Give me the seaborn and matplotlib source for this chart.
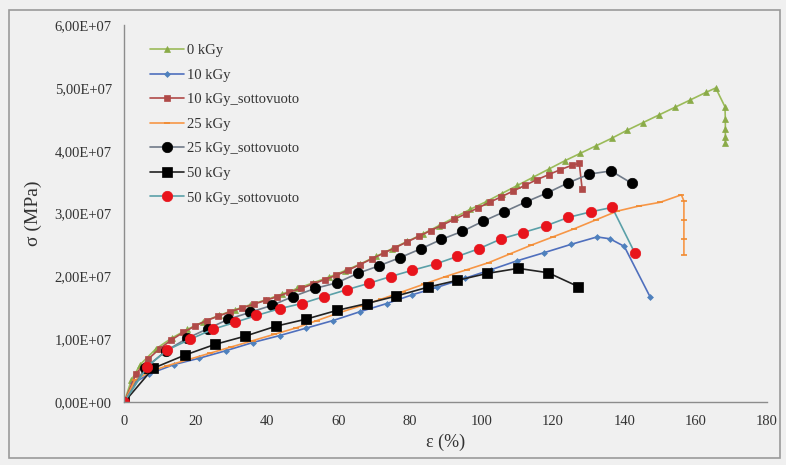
import seaborn as sns
import matplotlib.pyplot as plt
import matplotlib.ticker as mticker
from matplotlib.patches import Rectangle

# Dati: deformazione (%) e tensione (in unità di 1E+07)
x_0 = [0, 2, 4.5, 8.9, 13.3, 17.7, 22.1, 26.5, 30.9, 35.3, 39.7, 44.1, 48.5, 52.9, 57.3, 61.7, 66.1, 70.5,
       74.9, 79.3, 83.7, 88.1, 92.5, 96.9, 101.3, 105.7, 110.1, 114.5, 118.9, 123.3, 127.7, 132.1, 136.5,
       140.9, 145.3, 149.7, 154.1, 158.5, 162.9, 165.6, 168.2, 168.3, 168.3, 168.3, 168.3]
y_0 = [0, 0.35, 0.6, 0.85, 1.02, 1.16, 1.28, 1.38, 1.47, 1.55, 1.63, 1.72, 1.81, 1.9, 1.99, 2.09, 2.2, 2.32,
       2.44, 2.56, 2.68, 2.81, 2.94, 3.07, 3.19, 3.32, 3.45, 3.58, 3.71, 3.84, 3.96, 4.08, 4.2,
       4.33, 4.45, 4.57, 4.69, 4.81, 4.93, 5.0, 4.7, 4.5, 4.35, 4.22, 4.12]

x_10 = [0, 2.5, 7, 14, 21, 28.5, 36, 43.5, 51, 58.5, 66, 73.5, 80.7, 87.7, 95.3, 102.8, 110, 117.6, 125,
        132.4, 136, 140, 147.2]
y_10 = [0, 0.3, 0.45, 0.6, 0.7, 0.82, 0.95, 1.06, 1.18, 1.3, 1.44, 1.57, 1.71, 1.83, 1.97, 2.11, 2.25, 2.38,
        2.51, 2.63, 2.6, 2.48, 1.68]

x_10s = [0, 3.3, 6.6, 9.9, 13.2, 16.5, 19.8, 23.1, 26.4, 29.7, 33, 36.3, 39.6, 42.9, 46.2, 49.5, 52.8, 56.1,
         59.4, 62.7, 66, 69.3, 72.6, 75.9, 79.2, 82.5, 85.8, 89.1, 92.4, 95.7, 99, 102.3, 105.6, 108.9,
         112.2, 115.5, 118.8, 122.1, 125.4, 127.4, 128.2]
y_10s = [0, 0.45, 0.68, 0.85, 0.99, 1.11, 1.21, 1.3, 1.37, 1.44, 1.5, 1.56, 1.62, 1.68, 1.75, 1.81, 1.88, 1.95,
         2.02, 2.1, 2.19, 2.28, 2.37, 2.46, 2.55, 2.64, 2.73, 2.82, 2.91, 3.0, 3.09, 3.18, 3.27, 3.36,
         3.45, 3.54, 3.62, 3.7, 3.77, 3.8, 3.4]

x_25 = [0, 3, 7, 12, 18, 24, 30, 36, 42, 48, 54, 60, 66, 72, 78, 84, 90, 96, 102, 108, 114, 120, 126, 132,
        138, 144, 150, 156, 156.7, 156.7, 156.7, 156.7]
y_25 = [0, 0.35, 0.48, 0.58, 0.68, 0.78, 0.88, 0.98, 1.08, 1.18, 1.3, 1.42, 1.53, 1.64, 1.76, 1.88, 2.0, 2.11,
        2.22, 2.36, 2.5, 2.63, 2.76, 2.9, 3.04, 3.12, 3.18, 3.3, 3.2, 2.9, 2.6, 2.35]

x_25s = [0, 5.9, 11.8, 17.7, 23.4, 29.2, 35.2, 41.3, 47.2, 53.4, 59.5, 65.4, 71.3, 77.2, 83, 88.8, 94.7,
         100.5, 106.4, 112.6, 118.4, 124.3, 130.2, 136.3, 142.2]
y_25s = [0, 0.55, 0.82, 1.02, 1.17, 1.32, 1.43, 1.54, 1.68, 1.81, 1.9, 2.05, 2.17, 2.3, 2.44, 2.59, 2.72,
         2.88, 3.03, 3.19, 3.33, 3.49, 3.63, 3.68, 3.48]

x_50 = [0, 8.1, 17, 25.4, 33.8, 42.5, 50.8, 59.5, 67.9, 76.2, 85, 93.3, 101.7, 110.3, 118.7, 127.1]
y_50 = [0, 0.54, 0.75, 0.92, 1.05, 1.21, 1.32, 1.46, 1.57, 1.69, 1.83, 1.94, 2.05, 2.13, 2.06, 1.84]

x_50s = [0, 6.4, 12, 18.4, 24.8, 31, 37, 43.6, 49.7, 55.9, 62.3, 68.4, 74.6, 80.7, 87.2, 93.3, 99.2, 105.6,
         111.7, 118.2, 124.3, 130.7, 136.6, 143]
y_50s = [0, 0.56, 0.83, 1.0, 1.16, 1.27, 1.38, 1.49, 1.57, 1.68, 1.79, 1.89, 2.0, 2.1, 2.2, 2.32, 2.44, 2.6,
         2.7, 2.81, 2.94, 3.03, 3.1, 2.37]

# nome, x, y, colore linea, marker, colore marker, dimensione marker
series = [
    ('0 kGy', x_0, y_0, '#9bbb59', '^', '#8aab48', 5),
    ('10 kGy', x_10, y_10, '#4f6fbd', 'D', '#4f81bd', 3),
    ('10 kGy_sottovuoto', x_10s, y_10s, '#b04a48', 's', '#b04a48', 4.5),
    ('25 kGy', x_25, y_25, '#f79646', '_', '#f08a30', 5),
    ('25 kGy_sottovuoto', x_25s, y_25s, '#707a88', 'o', 'black', 7.5),
    ('50 kGy', x_50, y_50, '#222222', 's', 'black', 7.5),
    ('50 kGy_sottovuoto', x_50s, y_50s, '#5aa0a8', 'o', '#e8141c', 7.5),
]

sns.set_style('white')
plt.rcParams['font.family'] = ['Liberation Serif', 'DejaVu Serif']

bg = '#f0f0f0'
fig = plt.figure(figsize=(7.86, 4.65), dpi=100, facecolor=bg)
ax = fig.add_axes([0.158, 0.135, 0.818, 0.811], facecolor=bg)
fig.patches.append(Rectangle((0.012, 0.016), 0.98, 0.963, transform=fig.transFigure,
                             fill=False, edgecolor='#9a9a9a', linewidth=1.2))

for name, xs, ys, lc, mk, mc, ms in series:
    yv = [v * 1e7 for v in ys]
    sns.lineplot(x=xs, y=yv, ax=ax, sort=False, estimator=None, color=lc, linewidth=1.2,
                 marker=mk, markersize=ms, markerfacecolor=mc, markeredgecolor=mc,
                 markeredgewidth=1.2 if mk == '_' else 0.5, label=name)

ax.set_xlim(0, 180)
ax.set_ylim(0, 6e7)
ax.set_xticks(range(0, 181, 20))
ax.set_yticks([i * 1e7 for i in range(7)])
ax.yaxis.set_major_formatter(mticker.FuncFormatter(lambda v, p: f'{v:.2E}'.replace('.', ',')))

for s in ['top', 'right']:
    ax.spines[s].set_visible(False)
for s in ['left', 'bottom']:
    ax.spines[s].set_color('#8c8c8c')
    ax.spines[s].set_linewidth(1.0)
ax.tick_params(axis='both', direction='out', length=3, color='#8c8c8c', labelsize=10.5,
               labelcolor='#333333', pad=6)

ax.set_xlabel('ε (%)', fontsize=13, color='#333333', labelpad=4)
ax.set_ylabel('σ (MPa)', fontsize=14, color='#333333', labelpad=9)

ax.legend(loc='upper left', bbox_to_anchor=(0.02, 0.985), frameon=False, fontsize=10.5,
          handlelength=2.3, handletextpad=0.2, labelspacing=0.78, labelcolor='#333333')

plt.savefig('out.png', dpi=100, facecolor=bg)
